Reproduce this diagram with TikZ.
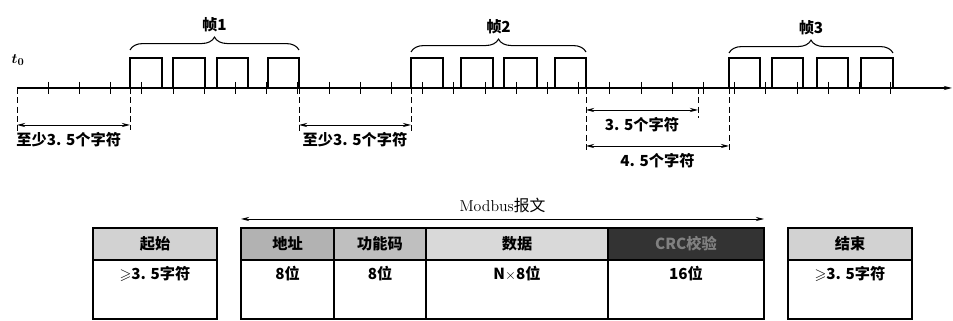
\documentclass[tikz,border=0pt]{standalone}
\usepackage{amsmath,amssymb}
\usepackage{fontspec}
\newfontfamily\cjk{Noto Sans CJK SC}
\usetikzlibrary{arrows.meta,decorations.pathreplacing}
\begin{document}
\begin{tikzpicture}[x=0.03cm,y=-0.03cm,line cap=butt,line join=miter,>={Stealth[length=7pt,width=3.5pt]},font=\fontsize{13}{15}\selectfont\cjk\bfseries]
\tikzset{pulse/.style={line width=1.3pt},
	tickmark/.style={line width=0.7pt},
	guide/.style={dashed,line width=0.8pt,dash pattern=on 5pt off 3pt},
	dim/.style={<->,line width=0.7pt},
	framebrace/.style={decorate,decoration={brace,amplitude=11pt},line width=0.9pt},
	cellline/.style={line width=1.3pt},
	headtext/.style={font=\fontsize{13}{15}\selectfont\cjk\bfseries}}
\useasboundingbox (0,0) rectangle (953,321);
% time axis
\coordinate (t0) at (17,88);
\coordinate (tend) at (952,88);
\draw[->,line width=0.9pt] (t0)--(tend);
\node (tlabel) at (18,60) {$\boldsymbol{t_0}$};
\foreach \k in {1,...,28}{
	\draw[tickmark] ({17+31.2*\k},82)--({17+31.2*\k},94);}
% frames
\foreach \a/\b in {130/162,173/205,217/248,268/299,411/443,461/493,504/537,555/586,729/760,772/803,817/848,861/893}{
	\draw[pulse] (\a,88)|-(\b,58)--(\b,88);}
\coordinate (f1s) at (130,50); \coordinate (f1e) at (299,50);
\coordinate (f2s) at (411,52); \coordinate (f2e) at (586,52);
\coordinate (f3s) at (729,53); \coordinate (f3e) at (893,53);
\draw[framebrace] (f1s)--(f1e) node[midway,above=12pt] (fr1) {帧1};
\draw[framebrace] (f2s)--(f2e) node[midway,above=12pt] (fr2) {帧2};
\draw[framebrace] (f3s)--(f3e) node[midway,above=12pt] (fr3) {帧3};
% gaps
\draw[guide] (t0)--(17,134);
\foreach \x/\y in {130/130,299/134,411/134,586/152,698/118,729/152}{
	\draw[guide] (\x,88)--(\x,\y);}
\coordinate (g1a) at (17,125); \coordinate (g1b) at (130,125);
\coordinate (g2a) at (299,125); \coordinate (g2b) at (411,125);
\coordinate (g3a) at (586,110); \coordinate (g3b) at (698,110);
\coordinate (g4a) at (586,146); \coordinate (g4b) at (729,146);
\draw[dim] (g1a)--(g1b) node[midway,below=3pt,xshift=-4pt] (gap1) {至少3. 5个字符};
\draw[dim] (g2a)--(g2b) node[midway,below=3pt] (gap2) {至少3. 5个字符};
\draw[dim] (g3a)--(g3b) node[midway,below=3pt] (gap3) {3. 5个字符};
\draw[dim] (g4a)--(g4b) node[midway,below=3pt] (gap4) {4. 5个字符};
% message layout
\coordinate (ma) at (241,219); \coordinate (mb) at (764,219);
\draw[dim] (ma)--(mb) node[midway,above=2pt,font=\fontsize{13.5}{15}\selectfont\cjk] (msg) {{\normalfont Modbus}报文};
\foreach \xa/\xb/\hd/\bd/\col/\tc/\nm in {
	93/217/起始/{$\geqslant$3. 5字符}/gray!35/black/start,
	241/334/地址/8位/gray!60/black/addr,
	334/426/功能码/8位/gray!50/black/func,
	426/608/数据/{N$\times$8位}/gray!30/black/data,
	608/764/CRC校验/16位/black!80/gray/crc,
	788/912/结束/{$\geqslant$3. 5字符}/gray!35/black/end}{
	\fill[\col] (\xa,228) rectangle (\xb,260);
	\draw[cellline] (\xa,228) rectangle (\xb,319) (\xa,260)--(\xb,260);
	\node[headtext,text=\tc] (\nm-h) at ({(\xa+\xb)/2},244) {\hd};
	\node (\nm-b) at ({(\xa+\xb)/2},274) {\bd};}
\end{tikzpicture}
\end{document}
